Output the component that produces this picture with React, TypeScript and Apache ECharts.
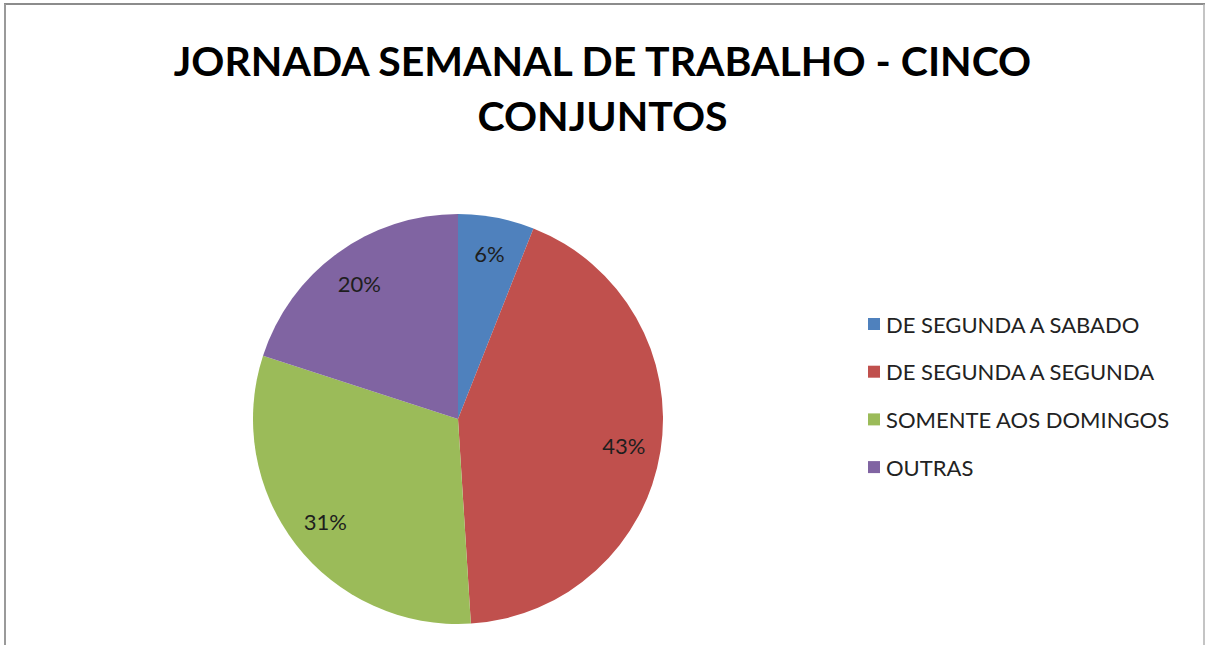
import React, { useEffect, useRef } from "react";
import * as echarts from "echarts";

const categories = [
  "DE SEGUNDA A SABADO",
  "DE SEGUNDA A SEGUNDA",
  "SOMENTE AOS DOMINGOS",
  "OUTRAS",
];
const values = [6, 43, 31, 20];
const colors = ["#4F81BD", "#C0504D", "#9BBB59", "#8064A2"];
const titleText = "JORNADA SEMANAL DE TRABALHO - CINCO\nCONJUNTOS";

export default function App() {
  const ref = useRef<HTMLDivElement>(null);
  useEffect(() => {
    if (!ref.current) return;
    const chart = echarts.init(ref.current, undefined, { renderer: "svg" });
    const data = categories.map((name, i) => ({
      name,
      value: values[i],
      itemStyle: { color: colors[i] },
    }));
    chart.setOption({
      animation: false,
      backgroundColor: "#ffffff",
      title: {
        text: titleText,
        left: "center",
        top: 28,
        textStyle: {
          fontFamily: "Lato",
          fontWeight: "bold",
          fontSize: 41,
          lineHeight: 55,
          color: "#000000",
        },
      },
      legend: {
        orient: "vertical",
        left: 863,
        top: 308,
        icon: "rect",
        itemWidth: 12,
        itemHeight: 12,
        itemGap: 25.7,
        data: categories,
        textStyle: {
          fontFamily: "Lato",
          fontSize: 22,
          color: "#222222",
          padding: [0, 0, 0, 1],
        },
      },
      graphic: [
        { type: "line", shape: { x1: 4, y1: 4, x2: 1205, y2: 4 }, style: { stroke: "#8c8c8c", lineWidth: 2 } },
        { type: "line", shape: { x1: 5, y1: 4, x2: 5, y2: 645 }, style: { stroke: "#9a9a9a", lineWidth: 2 } },
        { type: "line", shape: { x1: 1204, y1: 4, x2: 1204, y2: 645 }, style: { stroke: "#b0b0b0", lineWidth: 1.5 } },
      ],
      series: [
        {
          type: "pie",
          center: [458, 419],
          radius: 205,
          startAngle: 90,
          clockwise: true,
          silent: true,
          label: { show: false },
          labelLine: { show: false },
          data,
        },
        {
          type: "pie",
          center: [458, 419],
          radius: [125, 205],
          startAngle: 90,
          clockwise: true,
          silent: true,
          itemStyle: { color: "rgba(0,0,0,0)" },
          label: {
            show: true,
            position: "inside",
            formatter: "{c}%",
            fontFamily: "Lato",
            fontSize: 22,
            color: "#1e1e1e",
          },
          labelLine: { show: false },
          data: categories.map((name, i) => ({ name, value: values[i] })),
        },
      ],
    });
    return () => chart.dispose();
  }, []);
  return (
    <div
      ref={ref}
      style={{ position: "fixed", left: 0, top: 0, width: 1205, height: 645 }}
    />
  );
}
